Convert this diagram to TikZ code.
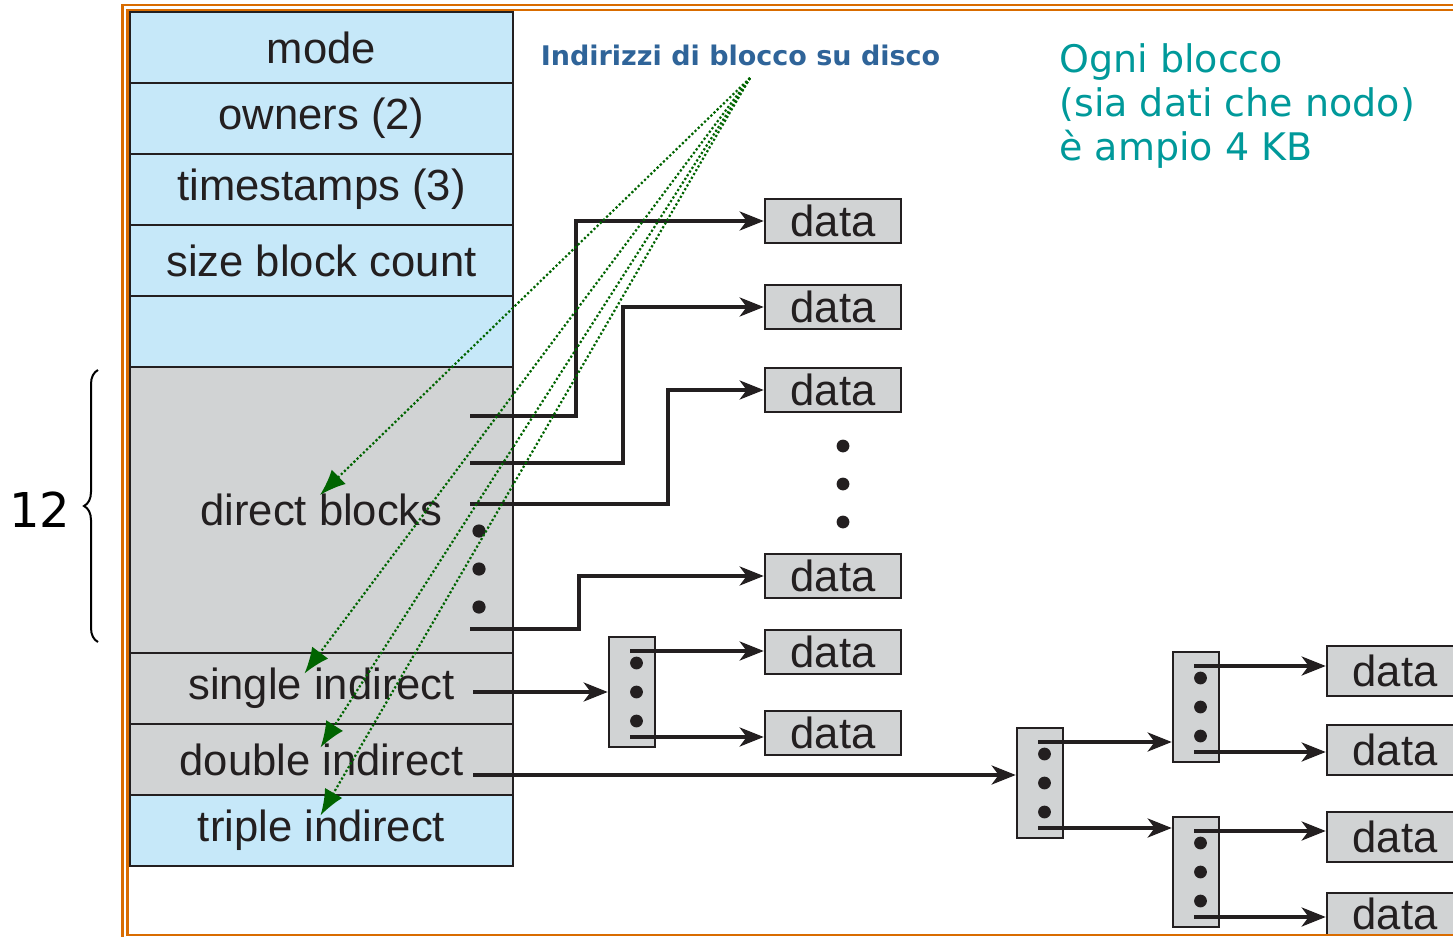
\documentclass[tikz,border=0pt]{standalone}
\usepackage{fontspec}
\setmainfont{Liberation Sans}
\newfontfamily\notefont{DejaVu Sans}
\usepackage{tikz}
\usetikzlibrary{arrows.meta,positioning,decorations.pathreplacing}
\definecolor{ink}{HTML}{231F20}
\definecolor{inodeblue}{HTML}{C6E8F9}
\definecolor{blockgray}{HTML}{D1D3D4}
\definecolor{frameorange}{HTML}{D96C00}
\definecolor{hintgreen}{HTML}{006400}
\definecolor{titleblue}{HTML}{2F6499}
\definecolor{noteteal}{HTML}{00999A}
\tikzset{%
    >={Stealth[length=12pt,width=9.5pt,inset=3.5pt]}
}

\begin{document}
\begin{tikzpicture}[x=0.5pt, y=-0.5pt,
    every node/.style={font=\fontsize{21.8}{26}\selectfont, text=ink},
    field/.style={draw=ink, line width=1.3pt, fill=inodeblue, outer sep=0pt,
      minimum width=191.5pt, minimum height=35.5pt},
    grayfield/.style={field, fill=blockgray},
    datablk/.style={draw=ink, line width=1.3pt, fill=blockgray, inner sep=0pt,
      minimum width=68pt, minimum height=22pt},
    idxblk/.style={draw=ink, line width=1.3pt, fill=blockgray, inner sep=0pt,
      minimum width=23pt, minimum height=55pt},
    ptr/.style={->, ink, line width=1.9pt},
    hint/.style={-{Latex[length=13pt,width=10pt]}, hintgreen, line width=1.1pt,
      dash pattern=on 1.1pt off 1.1pt}]
  \useasboundingbox (0,0) rectangle (1453,937);
  \clip (0,0) rectangle (1453,937);

  % inode
  \node[field] (mode) at (321.5,47.5) {mode};
  \node[field, below=0pt of mode] (owners) {owners (2)};
  \node[field, below=0pt of owners] (stamps) {timestamps (3)};
  \node[field, below=0pt of stamps] (size) {size block count};
  \node[field, below=0pt of size] (spare) {};
  \node[grayfield, below=0pt of spare, minimum height=143pt] (direct) {direct blocks};
  \node[grayfield, below=0pt of direct] (single) {single indirect};
  \node[grayfield, below=0pt of single] (double) {double indirect};
  \node[field, below=0pt of double] (triple) {triple indirect};
  \foreach \y in {531,569,607}
    \fill[ink] (479,\y) circle[radius=3.3pt];

  \draw[decorate, decoration={brace,amplitude=7pt}, line width=1pt] (98,642) -- (98,370);
  \node[font=\notefont\fontsize{24}{28}\selectfont, text=black] (twelve) at (40,510) {12};

  % data blocks
  \node[datablk] (data1) at (833,221) {data};
  \node[datablk] (data2) at (833,307) {data};
  \node[datablk] (data3) at (833,390) {data};
  \node[datablk] (data4) at (833,576) {data};
  \node[datablk] (data5) at (833,652) {data};
  \node[datablk] (data6) at (833,733) {data};
  \foreach \y in {446,484,522}
    \fill[ink] (843,\y) circle[radius=3.2pt];

  \node[datablk, minimum height=25pt] (data7) at (1395,671) {data};
  \node[datablk, minimum height=25pt] (data8) at (1395,750) {data};
  \node[datablk, minimum height=25pt] (data9) at (1395,837) {data};
  \node[datablk, minimum height=21pt] (data10) at (1395,914) {data};

  % index blocks
  \node[idxblk] (ib1) at (632,692) {};
  \node[idxblk] (ib2) at (1040,783) {};
  \node[idxblk] (ib3) at (1196,707) {};
  \node[idxblk] (ib4) at (1196,872) {};
  \foreach \b in {ib1,ib2,ib3,ib4} {
    \foreach \dy in {-29,0,29}
      \fill[ink] (\b.center) ++(4.5,\dy) circle[radius=3.2pt];
    \coordinate (\b-top) at ([shift={(-2,-41)}]\b.center);
    \coordinate (\b-bot) at ([shift={(-2,45)}]\b.center);
  }

  % pointers
  \coordinate (p1) at (470,416);
  \coordinate (p2) at (470,463);
  \coordinate (p3) at (470,504);
  \coordinate (p4) at (470,629);
  \coordinate (sgl) at (473,692);
  \coordinate (dbl) at (473,775);

  \draw[ptr] (p1) -- ++(106,0) |- (data1.west);
  \draw[ptr] (p2) -- ++(153,0) |- (data2.west);
  \draw[ptr] (p3) -- ++(198,0) |- (data3.west);
  \draw[ptr] (p4) -- ++(109,0) |- (data4.west);

  \draw[ptr] (sgl) -- (ib1.west);
  \draw[ptr] (ib1-top) -- (ib1-top -| data5.west);
  \draw[ptr] (ib1-bot) -- (ib1-bot -| data6.west);

  \draw[ptr] (dbl) -- (dbl -| ib2.west);
  \draw[ptr] (ib2-top) -- (ib2-top -| ib3.west);
  \draw[ptr] (ib2-bot) -- (ib2-bot -| ib4.west);
  \draw[ptr] (ib3-top) -- (ib3-top -| data7.west);
  \draw[ptr] (ib3-bot) -- (ib3-bot -| data8.west);
  \draw[ptr] (ib4-top) -- (ib4-top -| data9.west);
  \draw[ptr] (ib4-bot) -- (ib4-bot -| data10.west);

  % notes
  \node[font=\notefont\bfseries\fontsize{13.5}{16}\selectfont, text=titleblue]
    (title) at (740.5,55) {Indirizzi di blocco su disco};
  \node[font=\notefont\fontsize{19}{22}\selectfont, text=noteteal, align=left,
    anchor=north west, inner sep=0pt] (note) at (1059,43)
    {Ogni blocco\\(sia dati che nodo)\\è ampio 4 KB};

  \coordinate (src) at (750,78);
  \draw[hint] (src) -- ([shift={(-1.5,-15)}]direct.center);
  \draw[hint] (src) -- ([shift={(-17,-15)}]single.center);
  \draw[hint] (src) -- ([shift={(-1,-12)}]double.center);
  \draw[hint] (src) -- ([shift={(-1,-15)}]triple.center);

  \draw[frameorange, line width=1.4pt] (122.5,5) rectangle (1520,945);
  \draw[frameorange, line width=1.4pt] (127.5,10) rectangle (1515,935);
\end{tikzpicture}
\end{document}
